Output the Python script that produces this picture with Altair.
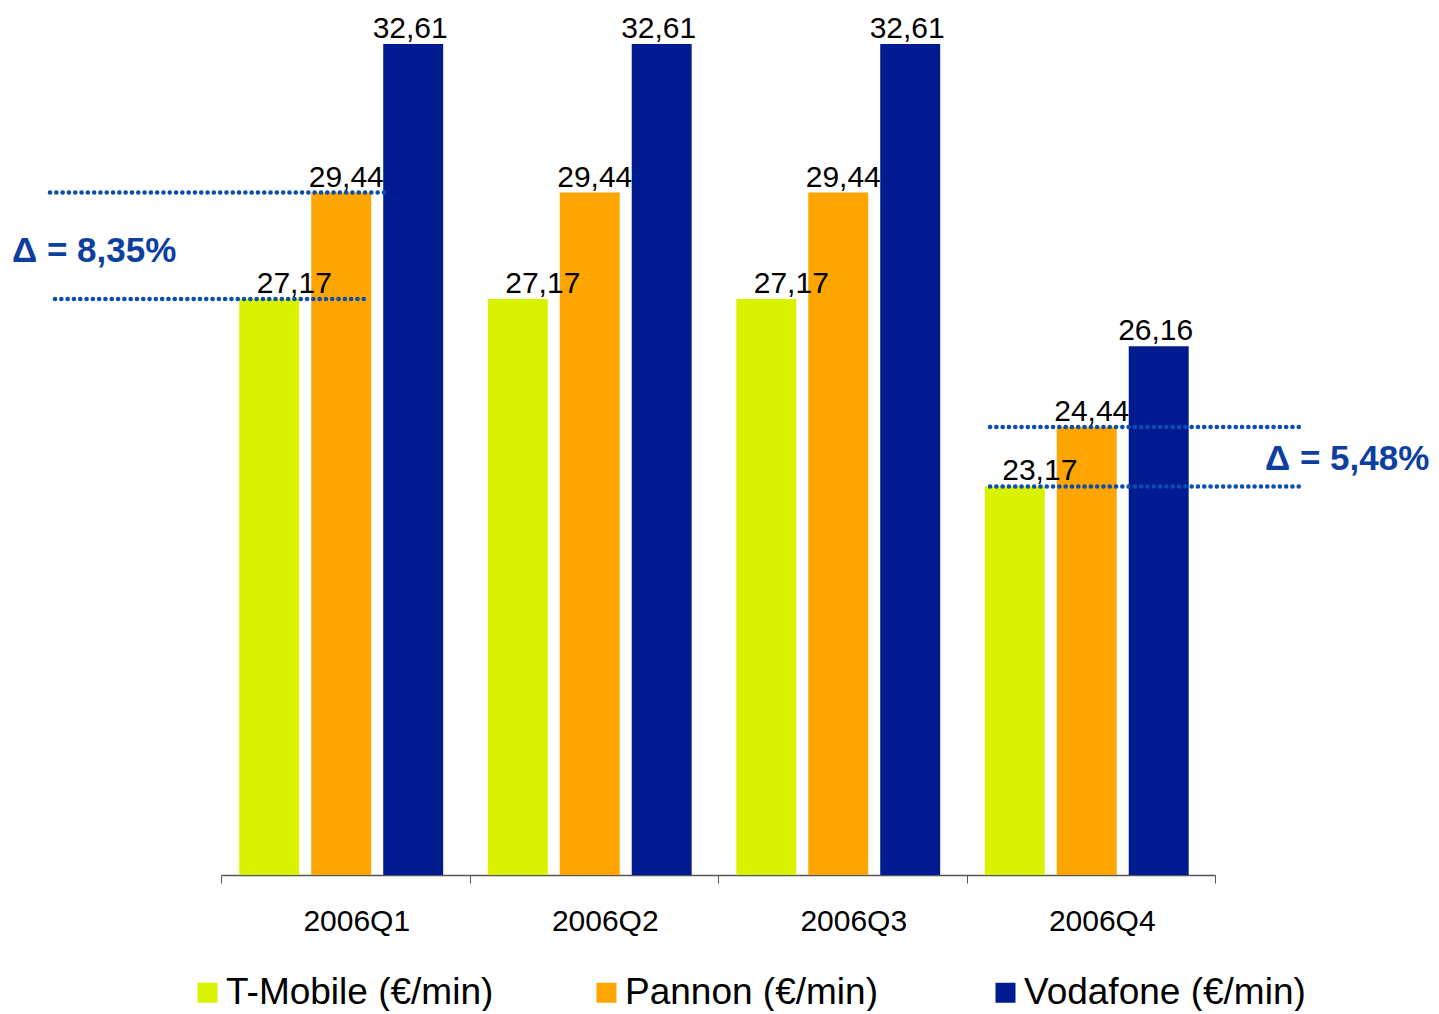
import altair as alt
import pandas as pd

quarters = ["2006Q1", "2006Q2", "2006Q3", "2006Q4"]
series = ["T-Mobile (€/min)", "Pannon (€/min)", "Vodafone (€/min)"]
tmobile = [27.17, 27.17, 27.17, 23.17]
pannon = [29.44, 29.44, 29.44, 24.44]
vodafone = [32.61, 32.61, 32.61, 26.16]
colors = ["#D9F200", "#FFA500", "#001A8F"]

delta_labels = ["\u0394 = 8,35%", "\u0394 = 5,48%"]
delta_low = [27.17, 23.17]
delta_high = [29.44, 24.44]

rows = []
for i, q in enumerate(quarters):
    for s, vals in zip(series, [tmobile, pannon, vodafone]):
        rows.append({"quarter": q, "series": s, "value": vals[i]})
df = pd.DataFrame(rows)

FONT = "Liberation Sans"
BLUE = "#0B4DB0"

y_scale = alt.Scale(domain=[14.88, 33.248], zero=False, nice=False, clamp=True)

x_enc = alt.X(
    "quarter:N",
    sort=quarters,
    scale=alt.Scale(paddingInner=0, paddingOuter=0),
    axis=alt.Axis(
        title=None, labelAngle=0, tickBand="extent", labelFont=FONT,
        labelFontSize=30, labelColor="#000", labelPadding=23, labelOffset=11,
        domainColor="#555", tickColor="#555", tickSize=8, domainWidth=1.5,
        grid=False,
    ),
)
xoff_enc = alt.XOffset("series:N", sort=series,
                       scale=alt.Scale(paddingInner=0.167, paddingOuter=0.31,
                                       align=0.41))

base = alt.Chart(df).encode(x=x_enc, xOffset=xoff_enc)

bars = base.mark_bar().encode(
    y=alt.Y("value:Q", scale=y_scale, axis=None),
    color=alt.Color(
        "series:N", sort=series,
        scale=alt.Scale(domain=series, range=colors),
        legend=alt.Legend(
            title=None, orient="none", legendX=-32, legendY=960,
            direction="horizontal", columns=3, gridAlign="all",
            columnPadding=80, symbolType="square", symbolSize=400,
            symbolStrokeWidth=0, labelFont=FONT, labelFontSize=37,
            labelColor="#000", labelOffset=0, padding=0, labelLimit=400,
        ),
    ),
)

def labels(filter_expr, dx):
    return base.transform_filter(filter_expr).transform_calculate(
        lab="replace(format(datum.value, '.2f'), '.', ',')"
    ).mark_text(
        font=FONT, fontSize=30, color="#000", baseline="bottom", dy=0, dx=dx
    ).encode(y=alt.Y("value:Q", scale=y_scale), text="lab:N")

lab_t = labels(alt.datum.series == series[0], 25)
lab_p = labels(alt.datum.series == series[1], 5)
lab_v = labels(alt.datum.series == series[2], -3)

ann = pd.DataFrame({"label": delta_labels, "lo": delta_low, "hi": delta_high})

def dotted(row, field, x0, x1):
    return alt.Chart(ann.iloc[[row]]).mark_rule(
        color=BLUE, strokeWidth=4.5, strokeDash=[0.1, 6.2], strokeCap="round"
    ).encode(y=alt.Y(f"{field}:Q", scale=y_scale),
             x=alt.value(x0), x2=alt.value(x1))

def delta_text(row, x0, dy):
    return alt.Chart(ann.iloc[[row]]).transform_calculate(
        mid="(datum.lo + datum.hi) / 2"
    ).mark_text(
        font=FONT, fontSize=35, fontWeight="bold", color="#0D3FA0",
        align="left", baseline="middle", dy=dy
    ).encode(y=alt.Y("mid:Q", scale=y_scale), x=alt.value(x0), text="label:N")

annotations = [
    dotted(0, "hi", -171, 169),
    dotted(0, "lo", -166, 147),
    dotted(1, "hi", 769, 1082),
    dotted(1, "lo", 769, 1082),
    delta_text(0, -209, 5),
    delta_text(1, 1044, 2),
]

chart = alt.layer(bars, lab_t, lab_p, lab_v, *annotations).properties(
    width=994, height=861,
    autosize=alt.AutoSizeParams(type="none"),
    padding={"left": 213, "top": 6, "right": 216, "bottom": 136},
).configure_view(strokeWidth=0)

chart.save("out.html", embed_options={"renderer": "svg", "actions": False})
